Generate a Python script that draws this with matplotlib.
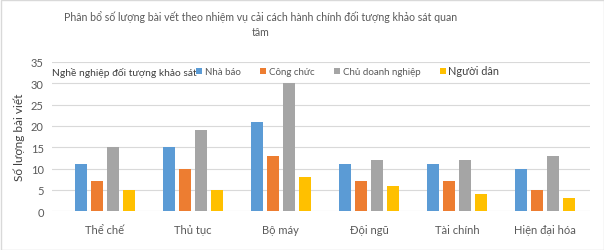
import numpy as np
from matplotlib import pyplot as plt
from matplotlib.patches import Rectangle

plt.rcParams['font.family'] = ['Lato', 'DejaVu Sans']

# data
categories = ["Thể chế", "Thủ tục", "Bộ máy", "Đội ngũ", "Tài chính", "Hiện đại hóa"]
series_names = ["Nhà báo", "Công chức", "Chủ doanh nghiệp", "Người dân"]
nha_bao = [11, 15, 21, 11, 11, 10]
cong_chuc = [7, 10, 13, 7, 7, 5]
chu_dn = [15, 19, 30, 12, 12, 13]
nguoi_dan = [5, 5, 8, 6, 4, 3]
yticks = [0, 5, 10, 15, 20, 25, 30, 35]

colors = ["#5B9BD5", "#ED7D31", "#A5A5A5", "#FFC000"]
text_col = "#595959"

fig = plt.figure(figsize=(6.04, 2.51), dpi=100)
ax = fig.add_axes([52 / 604, 1 - 212.3 / 251, 538 / 604, 149.4 / 251])

x = np.arange(len(categories))
width = 0.136
step = 0.182
all_series = [nha_bao, cong_chuc, chu_dn, nguoi_dan]
handles = []
for i, (vals, c) in enumerate(zip(all_series, colors)):
    b = ax.bar(x + (i - 1.5) * step, vals, width, color=c, zorder=3)
    handles.append(b)

ax.set_xlim(-0.6, 5.51)
ax.set_ylim(0, 35)
ax.set_yticks(yticks)
ax.set_xticks(x)
ax.set_xticklabels(categories, fontsize=8, color=text_col)
ax.tick_params(axis='y', labelsize=8, labelcolor=text_col, length=0, pad=6)
ax.tick_params(axis='x', length=0, pad=9)
ax.grid(axis='y', color="#D9D9D9", linewidth=0.8, zorder=0)
for s in ax.spines.values():
    s.set_visible(False)

ax.set_ylabel("Số lượng bài viết", fontsize=8.5, color="#404040", labelpad=4)

fig.text(261 / 604, 1 - 17 / 251, "Phân bổ số lượng bài vết theo nhiệm vụ cải cách hành chính đối tượng khảo sát quan",
         ha='center', va='center', fontsize=7.6, color=text_col)
fig.text(261 / 604, 1 - 33 / 251, "tâm", ha='center', va='center', fontsize=7.6, color=text_col)

fig.text(52 / 604, 1 - 73 / 251, "Nghề nghiệp đối tượng khảo sát", ha='left', va='center',
         fontsize=7.4, color="#404040")

leg = fig.legend(handles, series_names, loc='center left', bbox_to_anchor=(196 / 604, 1 - 72 / 251),
                 ncol=4, frameon=False, fontsize=7, handlelength=0.6, handleheight=0.6,
                 handletextpad=0.3, columnspacing=2.0, labelcolor=text_col, borderaxespad=0,
                 borderpad=0)
leg.get_texts()[3].set_fontsize(7.8)
leg.get_texts()[3].set_color("#404040")

fig.patches.append(Rectangle((0.5 / 604, 0.5 / 251), 603 / 604, 250 / 251, transform=fig.transFigure,
                             fill=False, edgecolor="#D9D9D9", linewidth=1))

fig.savefig("out.png", dpi=100, facecolor="white")
